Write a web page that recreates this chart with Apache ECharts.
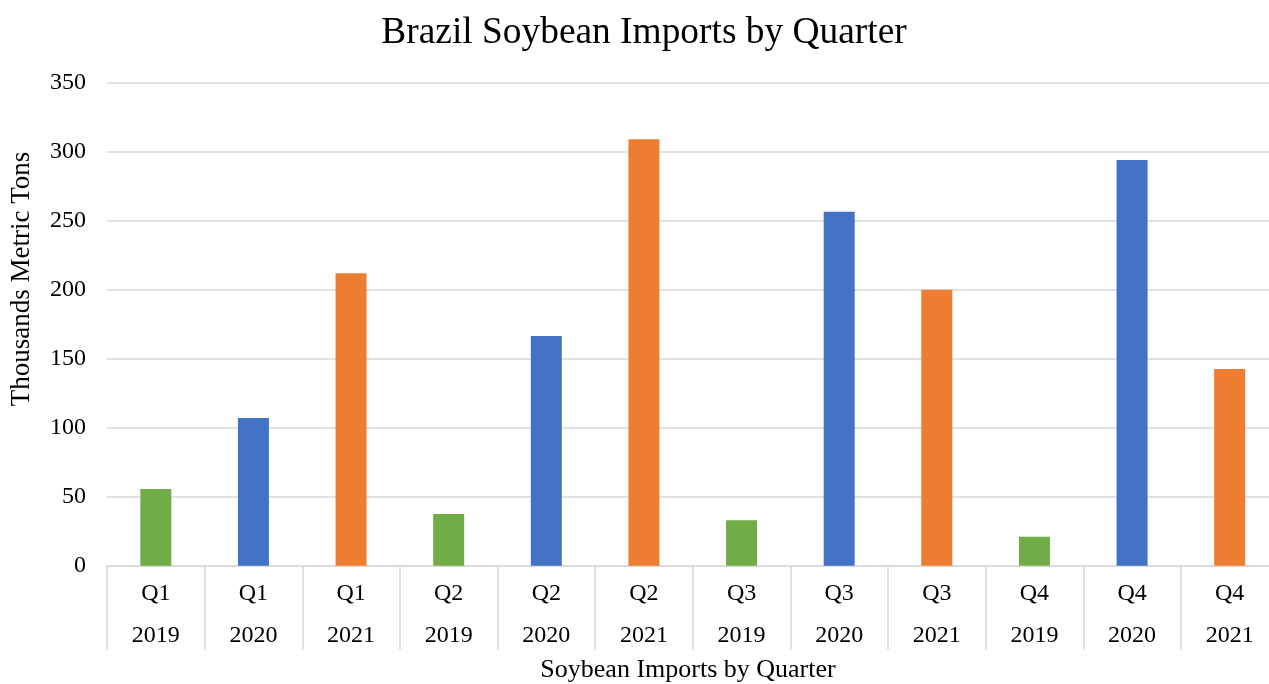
<!DOCTYPE html>
<html>
<head>
<meta charset="utf-8">
<script src="https://cdn.jsdelivr.net/npm/echarts@6/dist/echarts.min.js"></script>
<style>
  html, body { margin: 0; padding: 0; background: #fff; }
  #chart { width: 1269px; height: 684px; }
</style>
</head>
<body>
<div id="chart"></div>
<script>
// Quarterly soybean imports into Brazil (thousand metric tons)
const quarters = ['Q1', 'Q1', 'Q1', 'Q2', 'Q2', 'Q2', 'Q3', 'Q3', 'Q3', 'Q4', 'Q4', 'Q4'];
const years = ['2019', '2020', '2021', '2019', '2020', '2021', '2019', '2020', '2021', '2019', '2020', '2021'];
const imports = [55.5, 107, 212, 37.5, 166.5, 309, 33, 256.5, 200, 21, 294, 142.5];
const yTicks = [0, 50, 100, 150, 200, 250, 300, 350];

// one colour per year
const yearColors = { '2019': '#70AD47', '2020': '#4472C4', '2021': '#ED7D31' };

const serif = 'Liberation Serif';
const gridColor = '#d9d9d9';

const chart = echarts.init(document.getElementById('chart'));
chart.setOption({
  animation: false,
  backgroundColor: '#ffffff',
  title: {
    text: 'Brazil Soybean Imports by Quarter',
    left: 639,
    top: 10,
    textAlign: 'center',
    textStyle: { fontFamily: serif, fontSize: 37.4, fontWeight: 'normal', color: '#000' }
  },
  // plot area runs slightly past the right edge of the canvas
  grid: {
    left: 107, width: 1171.5, top: 82.7, height: 483,
    containLabel: false,
    outerBoundsMode: 'none'
  },
  xAxis: {
    type: 'category',
    data: quarters.map((q, i) => q + '\n' + years[i]),
    axisLine: { lineStyle: { color: gridColor, width: 1.5 } },
    axisTick: { show: true, length: 84, lineStyle: { color: gridColor, width: 1.5 } },
    axisLabel: {
      margin: 7,
      interval: 0,
      fontFamily: serif,
      fontSize: 24,
      lineHeight: 42,
      color: '#000'
    }
  },
  yAxis: {
    type: 'value',
    min: yTicks[0],
    max: yTicks[yTicks.length - 1],
    interval: yTicks[1] - yTicks[0],
    axisLine: { show: false },
    axisTick: { show: false },
    splitLine: { lineStyle: { color: gridColor, width: 1.5 } },
    axisLabel: { margin: 21, fontFamily: serif, fontSize: 24, color: '#000' }
  },
  graphic: [
    {
      type: 'text',
      x: 22, y: 279,
      rotation: Math.PI / 2,
      style: {
        text: 'Thousands Metric Tons',
        font: '27px "Liberation Serif"',
        fill: '#000',
        align: 'center',
        verticalAlign: 'middle'
      }
    },
    {
      type: 'text',
      x: 688, y: 670,
      style: {
        text: 'Soybean Imports by Quarter',
        font: '26px "Liberation Serif"',
        fill: '#000',
        align: 'center',
        verticalAlign: 'middle'
      }
    }
  ],
  series: [{
    type: 'bar',
    barWidth: 31,
    data: imports.map((v, i) => ({ value: v, itemStyle: { color: yearColors[years[i]] } }))
  }]
});
</script>
</body>
</html>
